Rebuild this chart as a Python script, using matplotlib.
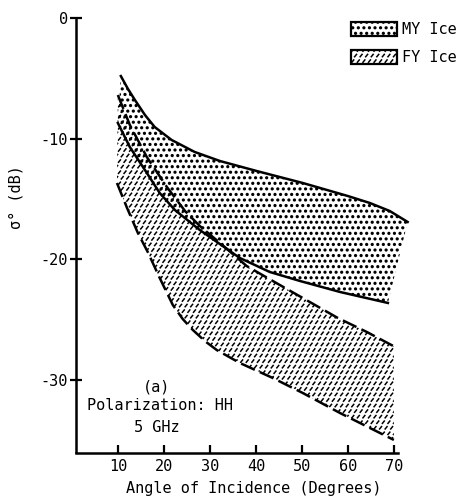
import numpy as np
import matplotlib
matplotlib.use("Agg")
import matplotlib.pyplot as plt
import matplotlib.hatch as mhatch
from matplotlib.path import Path
from matplotlib.patches import Rectangle

# ---------------- data ----------------
my_upper_x = [10.65, 12.2, 13.7, 15.9, 18.0, 21.7, 26.7, 32.2, 40.2, 50.2, 60.0, 64.8, 69.1, 73.0]
my_upper_y = [-4.81, -5.88, -6.79, -8.04, -9.03, -10.11, -11.10, -11.85, -12.68, -13.67, -14.75, -15.33, -15.99, -16.90]

my_lower_x = [10.0, 12.6, 16.3, 19.1, 22.4, 27.8, 36.5, 43.0, 49.6, 58.3, 68.7]
my_lower_y = [-8.70, -10.69, -12.84, -14.50, -15.91, -17.56, -19.88, -21.04, -21.79, -22.70, -23.61]

fy_upper_x = [10.0, 12.6, 16.3, 20.65, 24.6, 27.8, 32.2, 38.0, 45.2, 50.2, 57.8, 64.1, 70.0]
fy_upper_y = [-6.38, -8.86, -11.52, -14.00, -15.99, -17.23, -18.64, -20.55, -22.12, -23.20, -24.85, -26.01, -27.2]

fy_lower_x = [9.8, 12.0, 14.35, 16.5, 19.1, 21.95, 24.1, 26.3, 28.9, 31.5, 36.5, 43.7, 50.2, 58.3, 70.0]
fy_lower_y = [-13.67, -15.74, -17.81, -19.39, -21.54, -23.78, -24.94, -25.85, -26.76, -27.51, -28.58, -29.83, -31.07, -32.73, -34.96]

x_ticks = [10, 20, 30, 40, 50, 60, 70]
x_ticklabels = ['10', '20', '30', '40', '50', '60', '70']
y_ticks = [0, -10, -20, -30]
y_ticklabels = ['0', '-10', '-20', '-30']

legend_labels = ['MY Ice', 'FY Ice']

# ---------------- custom hatches ----------------
class SlashDashes(mhatch.HatchPatternBase):
    """short slanted dashes on a staggered grid, triggered by 'o'"""

    def __init__(self, hatch, density):
        self.n = hatch.count('o') * density
        if self.n == 0:
            self.num_vertices = 0
        else:
            n = self.n
            n_shapes = (n // 2 + 1) * (n + 1) + (n // 2) * n
            self.num_vertices = n_shapes * 2

    def set_vertices_and_codes(self, vertices, codes):
        n = self.n
        step = 1.0 / n
        d = np.array([0.17, 0.21]) * step
        centers = []
        for row in range(n + 1):
            if row % 2 == 0:
                cols = np.linspace(0, 1, n + 1)
            else:
                cols = np.linspace(step / 2, 1 - step / 2, n)
            for c in cols:
                centers.append((c, row * step))
        centers = np.array(centers)
        v = np.empty((len(centers) * 2, 2))
        v[0::2] = centers - d
        v[1::2] = centers + d
        vertices[:] = v
        codes[0::2] = Path.MOVETO
        codes[1::2] = Path.LINETO


class BigDots(mhatch.Circles):
    """slightly larger filled dots, triggered by '.'"""
    size = 0.15
    filled = True

    def __init__(self, hatch, density):
        self.num_rows = hatch.count('.') * density
        super().__init__(hatch, density)


def _swap(t):
    if t is mhatch.SmallCircles:
        return SlashDashes
    if t is mhatch.SmallFilledCircles:
        return BigDots
    return t

mhatch._hatch_types = [_swap(t) for t in mhatch._hatch_types]

plt.rcParams['font.family'] = ['DejaVu Sans Mono', 'DejaVu Sans']
plt.rcParams['axes.unicode_minus'] = False
plt.rcParams['hatch.linewidth'] = 1.1
plt.rcParams['hatch.color'] = 'black'

W, H = 467, 499
fig = plt.figure(figsize=(W / 100, H / 100), dpi=100)
ax = fig.add_axes([76 / W, 1 - 452.5 / H, (398 - 76) / W, (452.5 - 18) / H])

MY_HATCH = '...'
FY_HATCH = 'ooo'

# fills
ax.fill(np.concatenate([fy_upper_x, fy_lower_x[::-1]]),
        np.concatenate([fy_upper_y, fy_lower_y[::-1]]),
        facecolor='none', edgecolor='black', linewidth=0, hatch=FY_HATCH,
        clip_on=False, zorder=1)
ax.fill(np.concatenate([my_upper_x, my_lower_x[::-1]]),
        np.concatenate([my_upper_y, my_lower_y[::-1]]),
        facecolor='none', edgecolor='black', linewidth=0, hatch=MY_HATCH,
        clip_on=False, zorder=1)

# boundary lines
lw = 1.8
ax.plot(my_upper_x, my_upper_y, color='black', lw=lw, clip_on=False, zorder=3)
ax.plot(my_lower_x, my_lower_y, color='black', lw=lw, clip_on=False, zorder=3)
ax.plot(fy_upper_x, fy_upper_y, color='black', lw=lw, dashes=(6, 2.2), clip_on=False, zorder=3)
ax.plot(fy_lower_x, fy_lower_y, color='black', lw=lw, dashes=(6, 2.2), clip_on=False, zorder=3)

ax.set_xlim(0.9, 70.9)
ax.set_ylim(-36, 0)

for s in ['top', 'right']:
    ax.spines[s].set_visible(False)
for s in ['left', 'bottom']:
    ax.spines[s].set_linewidth(1.8)

ax.set_xticks(x_ticks)
ax.set_xticklabels(x_ticklabels)
ax.set_yticks(y_ticks)
ax.set_yticklabels(y_ticklabels)
ax.tick_params(axis='x', direction='in', length=6, width=1.6, labelsize=11, pad=5)
ax.tick_params(axis='y', direction='inout', length=8, width=1.6, labelsize=11, pad=2)

ax.set_xlabel('Angle of Incidence (Degrees)', fontsize=11, va='center')
ax.xaxis.set_label_coords(0.553, -0.083)
ax.set_ylabel('σ° (dB)', fontsize=11, va='center')
ax.yaxis.set_label_coords(-0.186, 0.588)

# annotations
ax.text(18.5, -30.6, '(a)', ha='center', va='center', fontsize=11)
ax.text(19.1, -32.1, 'Polarization: HH', ha='center', va='center', fontsize=11)
ax.text(18.5, -33.9, '5 GHz', ha='center', va='center', fontsize=11)

# legend (manual)
for i, (lab, hat) in enumerate(zip(legend_labels, [MY_HATCH, FY_HATCH])):
    top = 22 + i * 28
    rect = Rectangle((351 / W, 1 - (top + 14) / H), 46 / W, 14 / H,
                     transform=fig.transFigure, facecolor='none',
                     edgecolor='black', linewidth=1.6, hatch=hat)
    fig.add_artist(rect)
    fig.text(402 / W, 1 - (top + 7) / H, lab, ha='left', va='center', fontsize=11)

fig.savefig('out.png', dpi=100)
